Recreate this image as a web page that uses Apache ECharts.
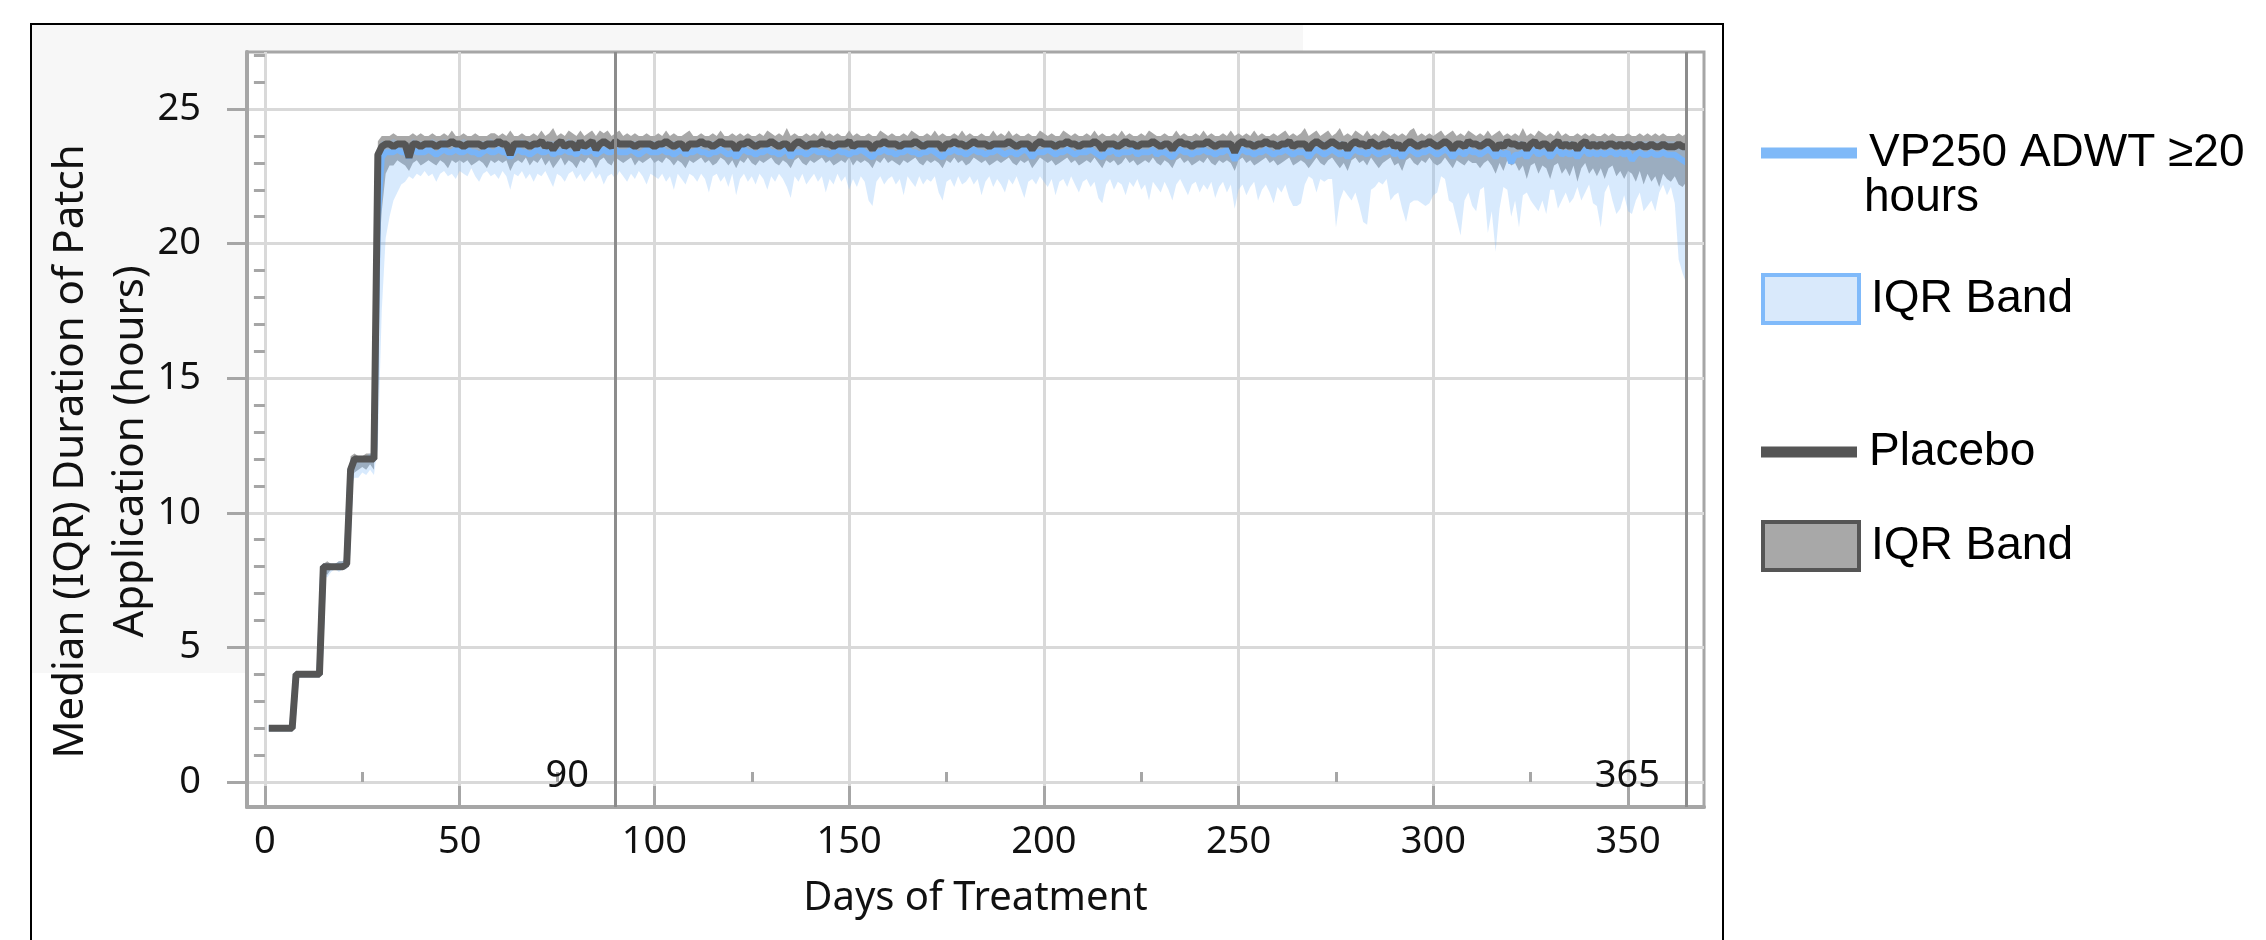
<!DOCTYPE html>
<html>
<head>
<meta charset="utf-8">
<script src="https://cdn.jsdelivr.net/npm/echarts@6/dist/echarts.min.js"></script>
<style>
  html, body { margin: 0; padding: 0; background: #fff; }
  #chart { width: 2266px; height: 940px; }
</style>
</head>
<body>
<div id="chart"></div>
<script>
// daily values, day 1 .. day 365
const placeboMedian = [
  2,2,2,2,2,2,2,4,4,4,
  4,4,4,4,8,8,8,8,8,8,
  8.1,11.6,12,12,12,12,12,12,23.3,23.6,
  23.7,23.7,23.6,23.7,23.7,23.7,23.2,23.7,23.7,23.6,
  23.7,23.7,23.7,23.6,23.7,23.7,23.7,23.8,23.7,23.7,
  23.6,23.7,23.7,23.7,23.7,23.6,23.7,23.7,23.7,23.8,
  23.7,23.7,23.3,23.7,23.7,23.7,23.7,23.6,23.7,23.7,
  23.8,23.6,23.7,23.5,23.7,23.8,23.6,23.7,23.7,23.5,
  23.8,23.6,23.7,23.8,23.5,23.7,23.8,23.7,23.6,23.8,
  23.7,23.7,23.7,23.7,23.6,23.7,23.7,23.7,23.7,23.6,
  23.7,23.7,23.8,23.7,23.6,23.7,23.7,23.5,23.7,23.7,
  23.7,23.8,23.7,23.7,23.6,23.7,23.8,23.7,23.7,23.7,
  23.5,23.7,23.7,23.8,23.7,23.6,23.7,23.7,23.7,23.8,
  23.7,23.6,23.7,23.7,23.5,23.7,23.8,23.7,23.6,23.7,
  23.7,23.7,23.8,23.7,23.7,23.6,23.7,23.7,23.7,23.8,
  23.6,23.7,23.7,23.7,23.7,23.5,23.7,23.7,23.8,23.7,
  23.7,23.7,23.6,23.7,23.7,23.7,23.8,23.7,23.6,23.7,
  23.7,23.7,23.7,23.5,23.7,23.7,23.8,23.7,23.7,23.6,
  23.7,23.8,23.7,23.7,23.7,23.6,23.7,23.7,23.7,23.7,
  23.8,23.7,23.6,23.7,23.7,23.7,23.5,23.7,23.8,23.7,
  23.7,23.7,23.6,23.7,23.7,23.8,23.7,23.7,23.6,23.7,
  23.7,23.7,23.8,23.7,23.5,23.7,23.7,23.7,23.6,23.7,
  23.8,23.7,23.7,23.6,23.7,23.7,23.7,23.8,23.7,23.6,
  23.7,23.7,23.5,23.7,23.8,23.7,23.7,23.6,23.7,23.7,
  23.7,23.8,23.7,23.6,23.7,23.7,23.7,23.7,23.4,23.7,
  23.8,23.7,23.7,23.6,23.7,23.7,23.8,23.7,23.7,23.6,
  23.7,23.7,23.8,23.6,23.7,23.7,23.7,23.5,23.7,23.8,
  23.7,23.6,23.7,23.8,23.7,23.6,23.7,23.5,23.7,23.8,
  23.7,23.7,23.6,23.8,23.7,23.6,23.7,23.7,23.8,23.6,
  23.7,23.5,23.7,23.8,23.7,23.6,23.7,23.7,23.8,23.7,
  23.6,23.7,23.8,23.7,23.5,23.7,23.7,23.6,23.8,23.7,
  23.7,23.6,23.7,23.8,23.7,23.5,23.7,23.6,23.8,23.7,
  23.7,23.6,23.7,23.5,23.7,23.8,23.6,23.7,23.7,23.5,
  23.7,23.8,23.6,23.7,23.6,23.7,23.5,23.7,23.8,23.6,
  23.7,23.6,23.7,23.6,23.7,23.7,23.6,23.7,23.6,23.7,
  23.6,23.6,23.7,23.6,23.6,23.7,23.6,23.6,23.7,23.6,
  23.6,23.6,23.7,23.6,23.6
];
const placeboQ3 = [
  2,2,2,2,2,2,2.1,4.1,4,4,
  4,4,4,4.1,8.1,8.2,8.1,8.1,8.2,8.2,
  8.4,12.1,12.2,12.1,12.1,12.2,12.2,12.2,23.8,24.0,
  24.0,24.0,24.1,24.0,24.0,24.0,24.0,24.1,24.0,24.1,
  24.0,24.0,24.1,24.0,24.0,24.1,24.0,24.2,24.0,24.0,
  24.1,24.0,24.0,24.1,24.0,24.0,24.0,24.1,24.1,24.0,
  24.1,24.0,24.2,24.0,24.0,24.1,24.0,24.0,24.1,24.0,
  24.2,24.0,24.1,24.3,24.0,24.1,24.0,24.2,24.1,24.0,
  24.2,24.0,24.1,24.2,24.0,24.2,24.1,24.2,24.0,24.1,
  24.2,24.0,24.1,24.0,24.1,24.0,24.0,24.1,24.0,24.0,
  24.1,24.0,24.2,24.0,24.1,24.0,24.0,24.1,24.2,24.0,
  24.0,24.1,24.0,24.0,24.1,24.0,24.2,24.0,24.0,24.1,
  24.0,24.1,24.0,24.1,24.0,24.0,24.1,24.0,24.2,24.1,
  24.0,24.1,24.0,24.3,24.0,24.1,24.0,24.0,24.1,24.0,
  24.1,24.0,24.2,24.0,24.1,24.0,24.1,24.0,24.0,24.2,
  24.0,24.1,24.0,24.0,24.1,24.0,24.0,24.2,24.1,24.0,
  24.1,24.0,24.0,24.1,24.0,24.2,24.1,24.0,24.0,24.1,
  24.0,24.2,24.0,24.1,24.0,24.0,24.1,24.0,24.2,24.0,
  24.1,24.0,24.0,24.1,24.0,24.0,24.2,24.0,24.1,24.0,
  24.2,24.0,24.1,24.0,24.0,24.1,24.0,24.0,24.2,24.1,
  24.0,24.1,24.0,24.0,24.2,24.1,24.0,24.1,24.0,24.0,
  24.1,24.0,24.2,24.0,24.1,24.0,24.0,24.1,24.0,24.2,
  24.0,24.1,24.0,24.0,24.1,24.0,24.2,24.1,24.0,24.0,
  24.1,24.0,24.0,24.2,24.0,24.1,24.0,24.0,24.1,24.0,
  24.2,24.0,24.1,24.0,24.0,24.1,24.0,24.2,24.0,24.1,
  24.0,24.1,24.0,24.2,24.0,24.1,24.0,24.0,24.1,24.0,
  24.1,24.2,24.0,24.1,24.0,24.1,24.3,24.0,24.1,24.2,
  24.0,24.1,24.2,24.0,24.1,24.3,24.0,24.1,24.0,24.2,
  24.1,24.0,24.2,24.0,24.1,24.0,24.2,24.1,24.0,24.1,
  24.0,24.1,24.0,24.2,24.3,24.0,24.1,24.0,24.1,24.0,
  24.1,24.2,24.0,24.1,24.2,24.0,24.1,24.0,24.2,24.1,
  24.0,24.1,24.0,24.2,24.0,24.1,24.2,24.0,24.1,24.0,
  24.1,24.0,24.3,24.0,24.1,24.0,24.2,24.1,24.0,24.1,
  24.0,24.2,24.0,24.1,24.0,24.0,24.1,24.0,24.1,24.0,
  24.1,24.0,24.0,24.1,24.0,24.1,24.0,24.0,24.0,24.1,
  24.0,24.0,24.1,24.0,24.1,24.0,24.1,24.0,24.1,24.0,
  24.0,24.0,24.1,24.0,24.1
];
const placeboQ1 = [
  2,2,2,2,2,2,2,3.9,3.9,4,
  4,4,3.9,3.9,7.8,7.7,7.9,8,7.9,8,
  8,11.2,11.5,11.6,11.7,11.6,11.8,11.6,19.0,21.2,
  22.6,22.9,22.9,23.1,23.0,22.9,22.7,23.0,23.1,22.9,
  23.0,23.1,23.0,22.9,23.1,23.0,22.8,23.1,23.0,23.1,
  23.0,23.1,22.9,23.0,23.1,23.0,22.8,23.1,23.0,23.1,
  23.0,23.1,22.7,23.0,23.1,23.0,23.2,22.9,23.1,23.0,
  23.2,22.9,23.1,22.8,23.0,23.2,22.9,23.1,23.0,22.8,
  23.1,23.0,23.2,23.1,22.8,23.1,23.2,23.0,22.9,23.2,
  23.1,23.0,23.1,23.2,22.9,23.1,23.0,23.1,23.2,23.0,
  23.1,23.0,23.2,23.1,22.9,23.1,23.0,22.8,23.1,23.0,
  23.1,23.2,23.0,23.1,22.9,23.0,23.2,23.1,22.9,23.1,
  22.8,23.1,23.0,23.2,23.0,22.9,23.1,23.0,23.1,23.2,
  23.0,22.9,23.1,23.0,22.8,23.1,23.2,23.0,22.9,23.1,
  23.0,23.1,23.2,23.0,23.1,22.9,23.0,23.1,23.0,23.2,
  22.9,23.1,23.0,23.1,23.0,22.8,23.1,23.0,23.2,23.0,
  23.1,23.0,22.9,23.1,23.0,23.1,23.2,23.0,22.9,23.1,
  23.0,23.1,23.0,22.8,23.1,23.0,23.2,23.0,23.1,22.9,
  23.0,23.2,23.1,23.0,23.1,22.9,23.0,23.1,23.0,23.1,
  23.2,23.0,22.9,23.1,23.0,23.1,22.8,23.0,23.2,23.1,
  23.0,23.1,22.9,23.0,23.1,23.2,23.0,23.1,22.9,23.0,
  23.1,23.0,23.2,23.0,22.8,23.1,23.0,23.1,22.9,23.0,
  23.2,23.0,23.1,22.9,23.0,23.1,23.0,23.2,23.0,22.9,
  23.1,23.0,22.8,23.1,23.2,23.0,23.1,22.9,23.0,23.1,
  23.0,23.2,23.0,22.9,23.1,23.0,23.1,23.0,22.7,23.1,
  23.2,23.0,23.1,22.9,23.0,23.1,23.2,23.0,23.1,22.9,
  23.0,23.1,23.2,22.9,23.0,23.1,23.0,22.8,23.0,23.2,
  23.0,22.9,23.1,23.2,23.0,22.8,23.0,22.7,23.1,23.2,
  23.0,23.1,22.9,23.2,23.0,22.8,23.0,23.1,23.2,22.9,
  23.0,22.7,23.1,23.2,23.0,22.9,23.1,23.0,23.2,23.0,
  22.9,23.0,23.2,23.0,22.8,23.1,23.0,22.9,23.1,23.0,
  23.0,22.8,23.0,23.1,22.9,22.6,23.0,22.7,23.1,22.9,
  23.0,22.7,22.9,22.4,22.9,23.0,22.6,22.9,22.8,22.4,
  22.9,23.0,22.6,22.8,22.5,22.9,22.3,22.8,23.0,22.6,
  22.8,22.5,22.8,22.4,22.8,22.9,22.5,22.7,22.4,22.7,
  22.6,22.3,22.7,22.2,22.6,22.3,22.5,22.1,22.6,22.4,
  22.3,22.5,22.2,22.1,22.3
];
const vpMedian = [
  2,2,2,2,2,2,2,4,4,4,
  4,4,4,4,8,8,8,8,8,8,
  8.1,11.6,12,12,12,12,12,12,21.0,23.2,
  23.4,23.4,23.4,23.5,23.4,23.4,23.2,23.5,23.4,23.4,
  23.4,23.5,23.4,23.3,23.4,23.5,23.4,23.4,23.5,23.4,
  23.4,23.5,23.4,23.4,23.3,23.4,23.5,23.4,23.4,23.5,
  23.4,23.4,23.2,23.4,23.5,23.4,23.4,23.3,23.4,23.5,
  23.4,23.4,23.5,23.3,23.4,23.4,23.5,23.4,23.4,23.3,
  23.5,23.4,23.4,23.5,23.3,23.4,23.5,23.4,23.4,23.5,
  23.4,23.4,23.4,23.5,23.4,23.3,23.4,23.5,23.4,23.4,
  23.4,23.5,23.4,23.4,23.3,23.4,23.5,23.3,23.4,23.4,
  23.5,23.4,23.4,23.3,23.4,23.4,23.5,23.4,23.3,23.4,
  23.2,23.4,23.5,23.4,23.4,23.3,23.4,23.4,23.5,23.4,
  23.4,23.3,23.4,23.5,23.2,23.4,23.4,23.4,23.3,23.4,
  23.5,23.4,23.4,23.4,23.3,23.4,23.5,23.4,23.4,23.3,
  23.4,23.4,23.5,23.4,23.3,23.2,23.4,23.4,23.5,23.4,
  23.4,23.3,23.4,23.4,23.5,23.4,23.4,23.3,23.4,23.4,
  23.5,23.4,23.3,23.2,23.4,23.4,23.5,23.4,23.4,23.3,
  23.4,23.5,23.4,23.4,23.3,23.4,23.4,23.5,23.4,23.3,
  23.4,23.4,23.3,23.4,23.5,23.4,23.2,23.4,23.4,23.4,
  23.5,23.4,23.3,23.4,23.4,23.5,23.4,23.3,23.4,23.4,
  23.4,23.5,23.4,23.3,23.2,23.4,23.4,23.5,23.3,23.4,
  23.4,23.4,23.5,23.3,23.4,23.4,23.4,23.5,23.3,23.4,
  23.4,23.3,23.2,23.4,23.5,23.4,23.4,23.3,23.4,23.4,
  23.5,23.4,23.4,23.3,23.4,23.4,23.5,23.4,23.1,23.4,
  23.5,23.4,23.4,23.3,23.4,23.4,23.5,23.4,23.3,23.4,
  23.4,23.5,23.4,23.3,23.4,23.4,23.4,23.2,23.4,23.5,
  23.4,23.3,23.4,23.5,23.4,23.3,23.4,23.2,23.4,23.5,
  23.4,23.4,23.3,23.5,23.4,23.3,23.4,23.4,23.5,23.3,
  23.4,23.2,23.4,23.5,23.4,23.3,23.4,23.4,23.5,23.4,
  23.3,23.4,23.5,23.4,23.2,23.4,23.4,23.3,23.5,23.4,
  23.4,23.3,23.4,23.5,23.4,23.2,23.4,23.3,23.4,23.0,
  23.3,23.3,23.4,23.2,23.4,23.5,23.3,23.4,23.4,23.2,
  23.4,23.5,23.3,23.4,23.3,23.4,23.2,23.4,23.5,23.3,
  23.4,23.3,23.4,23.3,23.4,23.4,23.3,23.4,23.3,23.4,
  23.1,23.3,23.4,23.3,23.3,23.4,23.3,23.3,23.4,23.3,
  23.3,23.3,23.2,23.1,23.0
];
const vpQ3 = [
  2,2,2,2,2,2,2.1,4.1,4,4,
  4,4,4,4.1,8.1,8.1,8.1,8.1,8.2,8.2,
  8.3,12,12.1,12.1,12.1,12.1,12.2,12.1,23.6,23.8,
  23.8,23.8,23.9,23.8,23.8,23.8,23.7,23.9,23.8,23.8,
  23.8,23.8,23.9,23.8,23.8,23.9,23.8,23.9,23.8,23.8,
  23.9,23.8,23.8,23.8,23.8,23.8,23.8,23.9,23.8,23.8,
  23.8,23.8,23.7,23.8,23.8,23.9,23.8,23.8,23.8,23.8,
  23.9,23.8,23.8,23.8,23.8,23.9,23.8,23.9,23.8,23.8,
  23.9,23.8,23.8,23.9,23.8,23.8,23.9,23.8,23.8,23.9,
  23.8,23.8,23.8,23.8,23.8,23.8,23.8,23.8,23.8,23.8,
  23.8,23.8,23.9,23.8,23.8,23.8,23.8,23.7,23.8,23.8,
  23.8,23.9,23.8,23.8,23.8,23.8,23.9,23.8,23.8,23.8,
  23.7,23.8,23.8,23.9,23.8,23.8,23.8,23.8,23.8,23.9,
  23.8,23.8,23.8,23.8,23.7,23.8,23.9,23.8,23.8,23.8,
  23.8,23.8,23.9,23.8,23.8,23.8,23.8,23.8,23.8,23.9,
  23.8,23.8,23.8,23.8,23.8,23.7,23.8,23.8,23.9,23.8,
  23.8,23.8,23.8,23.8,23.8,23.8,23.9,23.8,23.8,23.8,
  23.8,23.8,23.8,23.7,23.8,23.8,23.9,23.8,23.8,23.8,
  23.8,23.9,23.8,23.8,23.8,23.8,23.8,23.8,23.8,23.8,
  23.9,23.8,23.8,23.8,23.8,23.8,23.7,23.8,23.9,23.8,
  23.8,23.8,23.8,23.8,23.8,23.9,23.8,23.8,23.8,23.8,
  23.8,23.8,23.9,23.8,23.7,23.8,23.8,23.8,23.8,23.8,
  23.9,23.8,23.8,23.8,23.8,23.8,23.8,23.9,23.8,23.8,
  23.8,23.8,23.7,23.8,23.9,23.8,23.8,23.8,23.8,23.8,
  23.8,23.9,23.8,23.8,23.8,23.8,23.8,23.8,23.6,23.8,
  23.9,23.8,23.8,23.8,23.8,23.8,23.9,23.8,23.8,23.8,
  23.8,23.8,23.9,23.8,23.8,23.8,23.8,23.7,23.8,23.9,
  23.8,23.8,23.8,23.9,23.8,23.8,23.8,23.7,23.8,23.9,
  23.8,23.8,23.8,23.9,23.8,23.8,23.8,23.8,23.9,23.8,
  23.8,23.7,23.8,23.9,23.8,23.8,23.8,23.8,23.9,23.8,
  23.8,23.8,23.9,23.8,23.7,23.8,23.8,23.8,23.9,23.8,
  23.8,23.8,23.8,23.9,23.8,23.7,23.8,23.8,23.9,23.6,
  23.8,23.8,23.8,23.7,23.8,23.9,23.8,23.8,23.8,23.7,
  23.8,23.9,23.8,23.8,23.8,23.8,23.7,23.8,23.9,23.8,
  23.8,23.8,23.8,23.8,23.8,23.8,23.8,23.8,23.8,23.8,
  23.7,23.8,23.8,23.8,23.8,23.8,23.8,23.8,23.8,23.8,
  23.8,23.8,23.7,23.7,23.6
];
const vpQ1 = [
  2,2,2,2,2,2,2,3.9,3.9,3.9,
  3.9,4,3.9,3.9,7.7,7.6,7.8,7.9,7.8,7.9,
  7.9,11.0,11.3,11.3,11.5,11.4,11.6,11.4,12.5,17.5,
  20.2,21.0,21.6,21.9,22.2,22.3,22.5,22.4,22.6,22.5,
  22.7,22.5,22.6,22.3,22.6,22.7,22.5,22.6,22.4,22.7,
  22.6,22.5,22.8,22.5,22.3,22.6,22.7,22.5,22.6,22.4,
  22.7,22.5,22.0,22.6,22.5,22.7,22.4,22.6,22.3,22.6,
  22.5,22.7,22.4,22.1,22.6,22.5,22.3,22.6,22.7,22.4,
  22.6,22.3,22.5,22.7,22.4,22.6,22.2,22.5,22.6,22.4,
  22.7,22.5,22.3,22.6,22.4,22.7,22.5,22.2,22.6,22.5,
  22.4,22.6,22.3,22.5,22.0,22.6,22.4,22.2,22.6,22.5,
  22.3,22.6,22.4,21.9,22.5,22.6,22.3,22.5,22.1,22.6,
  21.8,22.4,22.6,22.3,22.5,22.2,22.6,22.4,22.0,22.5,
  22.3,22.6,22.4,22.1,21.7,22.5,22.3,22.6,22.2,22.4,
  22.6,22.3,22.5,21.9,22.4,22.2,22.6,22.3,22.5,22.0,
  22.4,22.1,22.5,22.3,21.6,21.4,22.3,22.5,22.2,22.4,
  22.5,22.2,22.4,21.8,22.5,22.3,22.1,22.5,22.2,22.4,
  22.3,22.5,21.9,21.6,22.3,22.4,22.1,22.5,22.2,22.3,
  22.5,22.2,22.4,21.8,22.3,22.5,22.1,22.4,22.2,21.9,
  22.4,22.2,22.5,22.1,21.7,22.3,22.4,22.2,22.5,22.3,
  22.1,22.4,21.8,22.3,22.4,22.1,22.5,22.2,21.9,22.3,
  22.4,22.1,22.3,21.7,21.5,22.2,22.4,22.0,22.3,22.2,
  21.8,22.3,22.1,22.4,22.0,22.2,21.6,22.3,22.1,21.9,
  22.3,22.0,21.6,22.2,22.4,22.1,21.8,22.2,22.3,21.9,
  22.2,22.0,22.3,21.7,22.1,22.3,21.9,22.2,21.3,22.0,
  22.2,21.8,22.1,22.3,21.6,22.0,22.2,21.9,21.5,22.1,
  21.9,22.2,21.7,21.4,21.4,21.5,22.2,22.5,22.4,21.9,
  22.4,22.3,22.4,22.4,20.6,21.6,22.0,21.8,21.6,21.9,
  21.4,20.8,20.7,22.0,22.1,22.3,22.2,22.4,21.6,21.8,
  21.9,21.3,20.8,21.5,21.6,21.6,21.5,21.4,21.5,21.8,
  21.9,22.5,22.4,21.6,21.5,20.9,20.3,21.6,21.9,21.4,
  21.2,22.0,22.1,20.4,21.2,19.7,21.3,22.1,22.0,21.0,
  21.6,20.6,21.8,21.9,21.6,21.4,21.2,21.6,21.1,22.0,
  22.0,21.3,21.6,21.9,21.5,21.7,22.1,21.6,21.9,22.2,
  21.5,21.4,20.6,21.9,22.2,21.6,21.1,21.3,21.8,21.2,
  21.1,21.6,21.9,21.2,21.4,21.6,21.2,21.9,22.2,21.8,
  22.1,21.5,19.4,18.9,18.5
];

const yMajor = [0, 5, 10, 15, 20, 25];
const yMinor = [1, 2, 3, 4, 6, 7, 8, 9, 11, 12, 13, 14, 16, 17, 18, 19, 21, 22, 23, 24, 26, 27];
const xMajor = [0, 50, 100, 150, 200, 250, 300, 350];
const xMinor = [25, 75, 125, 175, 225, 275, 325];
const refDays = [90, 365];

const days = placeboMedian.map((v, i) => i + 1);
const pairs = arr => arr.map((v, i) => [days[i], v]);

const tickFont = 'Noto Sans';
const legendFont = 'Liberation Sans';
const axisGray = '#a6a6a6';

// one polygon for the whole band: q3 left to right, then q1 back
function bandSeries(name, q1, q3, fill, extra) {
  return Object.assign({
    name: name,
    type: 'custom',
    silent: true,
    clip: true,
    encode: { x: 0, y: [1, 2] },
    data: days.map((d, i) => [d, q1[i], q3[i]]),
    renderItem: (params, api) => {
      if (params.dataIndex !== 0) return null;
      const upper = days.map((d, i) => api.coord([d, q3[i]]));
      const lower = days.map((d, i) => api.coord([d, q1[i]])).reverse();
      return {
        type: 'polygon',
        shape: { points: upper.concat(lower) },
        style: { fill: fill, stroke: null }
      };
    }
  }, extra || {});
}

const chart = echarts.init(document.getElementById('chart'));

const legendText = {
  fontFamily: legendFont,
  fontSize: 46,
  color: '#000',
  lineHeight: 52,
  padding: [0, 0, 0, 7]
};

const option = {
  backgroundColor: '#fff',
  animation: false,
  grid: {
    left: 247,
    right: 562,
    top: 52,
    bottom: 133,
    show: true,
    backgroundColor: '#fff',
    borderColor: axisGray,
    borderWidth: 3,
    outerBoundsMode: 'none'
  },
  graphic: [
    {
      type: 'rect',
      z: -10,
      shape: { x: 31, y: 24, width: 1272, height: 649 },
      style: { fill: '#f7f7f7' }
    },
    {
      type: 'rect',
      z: 100,
      shape: { x: 31, y: 24, width: 1692, height: 1000 },
      style: { fill: 'none', stroke: '#000', lineWidth: 2 }
    },
    {
      type: 'text',
      z: 100,
      style: {
        text: 'hours',
        x: 1864,
        y: 198,
        fill: '#000',
        font: '46px "Liberation Sans"',
        verticalAlign: 'middle'
      }
    }
  ],
  legend: [
    {
      left: 1756, top: 122,
      itemWidth: 96, itemHeight: 11,
      selectedMode: false,
      textStyle: legendText,
      formatter: () => 'VP250 ADWT ≥20',
      data: [{ name: 'VP250 ADWT ≥20 hours', icon: 'rect', itemStyle: { color: '#7fb9f8' } }]
    },
    {
      left: 1756, top: 268,
      itemWidth: 96, itemHeight: 48,
      selectedMode: false,
      textStyle: legendText,
      formatter: () => 'IQR Band',
      data: [{ name: 'VP250 IQR Band', icon: 'rect', itemStyle: { color: '#d9e9fb', borderColor: '#80bafa', borderWidth: 4 } }]
    },
    {
      left: 1756, top: 421,
      itemWidth: 96, itemHeight: 11,
      selectedMode: false,
      textStyle: legendText,
      data: [{ name: 'Placebo', icon: 'rect', itemStyle: { color: '#555555' } }]
    },
    {
      left: 1756, top: 515,
      itemWidth: 96, itemHeight: 48,
      selectedMode: false,
      textStyle: legendText,
      formatter: () => 'IQR Band',
      data: [{ name: 'Placebo IQR Band', icon: 'rect', itemStyle: { color: '#a8a8a8', borderColor: '#555555', borderWidth: 4 } }]
    }
  ],
  xAxis: [
    {
      type: 'value',
      min: -4.6,
      max: 369.5,
      position: 'bottom',
      name: 'Days of Treatment',
      nameLocation: 'middle',
      nameGap: 72,
      nameMoveOverlap: false,
      nameTextStyle: { fontFamily: tickFont, fontSize: 40, color: '#111' },
      axisLine: { show: true, onZero: false, lineStyle: { color: axisGray, width: 4 } },
      axisTick: { show: true, inside: true, length: 21, customValues: xMajor, lineStyle: { color: axisGray, width: 3 } },
      axisLabel: { customValues: xMajor, fontFamily: tickFont, fontSize: 38, color: '#111', margin: 16 },
      splitLine: { show: true, lineStyle: { color: '#d9d9d9', width: 3 } }
    },
    {
      type: 'value',
      min: -4.6,
      max: 369.5,
      position: 'bottom',
      axisLine: { show: false },
      axisTick: { show: true, inside: true, length: 10, customValues: xMinor, lineStyle: { color: axisGray, width: 3 } },
      axisLabel: { show: false },
      splitLine: { show: false }
    }
  ],
  yAxis: [
    {
      type: 'value',
      min: -0.93,
      max: 27.12,
      position: 'left',
      name: 'Median (IQR) Duration of Patch\nApplication (hours)',
      nameLocation: 'middle',
      nameGap: 86,
      nameMoveOverlap: false,
      nameTextStyle: { fontFamily: tickFont, fontSize: 42, lineHeight: 60, color: '#111', align: 'center', padding: [0, 44, 0, 0] },
      axisLine: { show: true, onZero: false, lineStyle: { color: axisGray, width: 4 } },
      axisTick: { show: true, inside: false, length: 20, customValues: yMajor, lineStyle: { color: axisGray, width: 3 } },
      axisLabel: { customValues: yMajor, fontFamily: tickFont, fontSize: 38, color: '#111', margin: 46 },
      splitLine: { show: true, lineStyle: { color: '#d9d9d9', width: 3 } }
    },
    {
      type: 'value',
      min: -0.93,
      max: 27.12,
      position: 'left',
      axisLine: { show: false },
      axisTick: { show: true, inside: false, length: 11, customValues: yMinor, lineStyle: { color: axisGray, width: 3 } },
      axisLabel: { show: false },
      splitLine: { show: false }
    }
  ],
  series: [
    bandSeries('Placebo IQR Band', placeboQ1, placeboQ3, '#a8a8a8', {
      color: '#a8a8a8',
      markLine: {
        silent: true,
        symbol: ['none', 'none'],
        label: { show: false },
        lineStyle: { color: '#8c8c8c', width: 3, type: 'solid' },
        data: refDays.map(d => ({ xAxis: d }))
      },
      markPoint: {
        silent: true,
        symbol: 'circle',
        symbolSize: 1,
        itemStyle: { color: 'transparent' },
        label: {
          show: true,
          position: 'left',
          distance: 26,
          formatter: p => String(p.value),
          fontFamily: tickFont,
          fontSize: 38,
          color: '#111'
        },
        data: refDays.map(d => ({ coord: [d, 0.2], value: d }))
      }
    }),
    bandSeries('VP250 IQR Band', vpQ1, vpQ3, 'rgba(125,185,247,0.3)', { color: '#80bafa' }),
    {
      name: 'VP250 ADWT ≥20 hours',
      type: 'line',
      data: pairs(vpMedian),
      showSymbol: false,
      color: '#78b4f8',
      lineStyle: { color: '#78b4f8', width: 6 }
    },
    {
      name: 'Placebo',
      type: 'line',
      data: pairs(placeboMedian),
      showSymbol: false,
      color: '#555555',
      lineStyle: { color: '#555555', width: 7 }
    }
  ]
};

chart.setOption(option);
</script>
</body>
</html>
